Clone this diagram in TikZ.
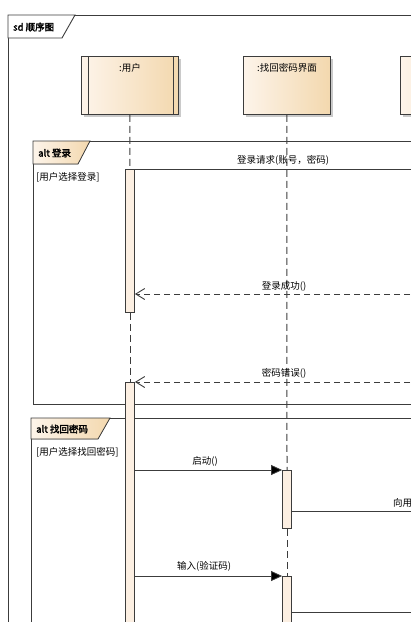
\documentclass[tikz,border=0pt]{standalone}
\usepackage{fontspec}
\newfontfamily\cjk[AutoFakeBold=2.5]{Noto Sans CJK SC}
\usetikzlibrary{arrows.meta,shadows}
\definecolor{cA}{HTML}{FDF4EA}
\definecolor{cB}{HTML}{F3D8AE}
\definecolor{actfill}{HTML}{FCEFE2}
\definecolor{ln}{HTML}{3C3C3C}
\tikzset{
  txt/.style={font=\cjk\fontsize{9.5}{10}\selectfont, inner sep=0pt, text=black},
  btxt/.style={font=\cjk\bfseries\fontsize{9.5}{10}\selectfont, inner sep=0pt, anchor=west},
  lifebox/.style={draw=ln, line width=0.9pt, left color=cA, right color=cB,
    drop shadow={shadow xshift=2.5pt, shadow yshift=-2.5pt, fill=black!35, opacity=0.6},
    minimum width=97pt, minimum height=58pt, anchor=north west, inner sep=0pt},
  lifel/.style={draw=ln, line width=1pt, dash pattern=on 7pt off 4pt},
  actbar/.style={draw=ln, line width=0.8pt, fill=actfill, minimum width=9pt, anchor=north, inner sep=0pt},
  fragbox/.style={draw=ln, line width=1.1pt, anchor=north west, inner sep=0pt},
  fragtab/.style={draw=ln, line width=0.8pt, left color=cA, right color=cB},
  msg/.style={draw=ln, line width=0.8pt},
  call/.style={msg, -{Triangle[length=11pt,width=10pt,fill=black]}},
  reply/.style={msg, dash pattern=on 6pt off 4pt, -{Straight Barb[length=9pt,width=11pt,line width=0.9pt]}},
}
\begin{document}
\begin{tikzpicture}[x=1pt,y=-1pt]
\useasboundingbox (0,0) rectangle (411,622);
% outer frame
\node[fragbox, minimum width=430pt, minimum height=640pt] (sd) at (8,15) {};
\filldraw[draw=ln, fill=white, line width=0.9pt] (8,15) -- (75,15) -- (62,38) -- (8,38) -- cycle;
\node[btxt] (sdt) at (13,27) {sd 顺序图};
% lifeline heads
\node[lifebox] (u) at (81,56) {};
\node[txt] (ut) at (130,68) {:用户};
\draw[draw=ln, line width=0.8pt] ([xshift=7pt]u.north west) -- ([xshift=7pt]u.south west);
\draw[draw=ln, line width=0.8pt] ([xshift=-6pt]u.north east) -- ([xshift=-6pt]u.south east);
\node[lifebox, minimum width=87pt] (f) at (243,56) {};
\node[txt] (ft) at (287,68) {:找回密码界面};
\node[lifebox] (s) at (400,56) {};
% fragment 1
\node[fragbox, minimum width=400pt, minimum height=263pt] (alt1) at (33,141) {};
\filldraw[fragtab] (33,141) -- (90,141) -- (78,164) -- (33,164) -- cycle;
\node[btxt] (alt1t) at (38,153) {alt 登录};
\node[txt, anchor=west] (g1) at (36,177) {[用户选择登录]};
% fragment 2
\node[fragbox, minimum width=400pt, minimum height=260pt] (alt2) at (31,418) {};
\filldraw[fragtab] (31,418) -- (110,418) -- (98,439) -- (31,439) -- cycle;
\node[btxt] (alt2t) at (36,429) {alt 找回密码};
\node[txt, anchor=west] (g2) at (36,452) {[用户选择找回密码]};
% activation bars
\node[actbar, minimum height=143pt] (a1) at (130,169) {};
\node[actbar, minimum height=260pt] (a2) at (130,382) {};
\node[actbar, minimum height=58pt] (b1) at (287,470) {};
\node[actbar, minimum height=60pt] (b2) at (287,576) {};
% lifelines
\draw[lifel] (u.south) -- (a1.north);
\draw[lifel] (a1.south) -- (a2.north);
\draw[lifel] (f.south) -- (b1.north);
\draw[lifel] (b1.south) -- (b2.north);
% off-picture ends
\coordinate (r1) at (430,169);
\coordinate (r2) at (430,294);
\coordinate (r3) at (430,382);
\coordinate (r4) at (430,511);
\coordinate (r5) at (430,612);
% messages
\draw[msg] (a1.north east) -- (r1);
\node[txt] (m1) at (283,160) {登录请求(账号，密码)};
\draw[reply] (r2) -- (a1.east |- r2);
\node[txt] (m2) at (284,286) {登录成功()};
\draw[reply] (r3) -- (a2.north east);
\node[txt] (m3) at (284,373) {密码错误()};
\draw[call] (a2.east |- b1.north) -- (b1.north west);
\node[txt] (m4) at (205,461) {启动()};
\draw[msg] (b1.east |- r4) -- (r4);
\node[txt, anchor=west] (m5) at (393,503) {向用};
\draw[call] (a2.east |- b2.north) -- (b2.north west);
\node[txt] (m6) at (204,566) {输入(验证码)};
\draw[msg] (b2.east |- r5) -- (r5);
\end{tikzpicture}
\end{document}
